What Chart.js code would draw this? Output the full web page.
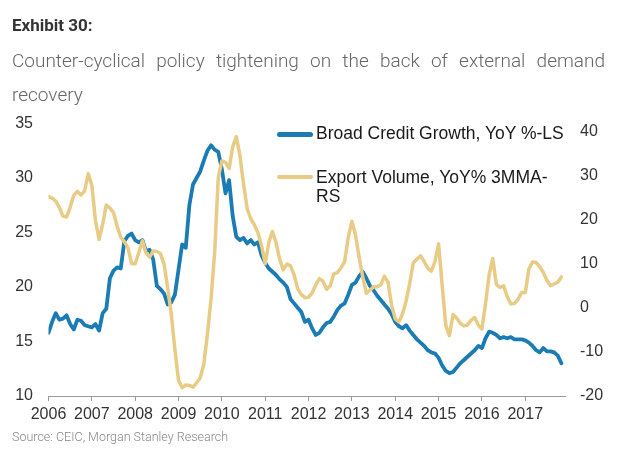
<!DOCTYPE html>
<html>
<head>
<meta charset="utf-8">
<script src="https://cdn.jsdelivr.net/npm/chart.js@4.4.1/dist/chart.umd.min.js"></script>
<style>
  html, body { margin: 0; padding: 0; background: #fff; }
  body { width: 640px; height: 459px; position: relative; overflow: hidden; }
  #c { position: absolute; left: 0; top: 0; }
  #title { position: absolute; left: 12px; top: 15px; font: bold 17px Roboto, sans-serif; color: #333; line-height: 20px; }
  #sub { position: absolute; left: 12px; top: 44px; width: 593px; font: 300 19px Roboto, sans-serif; color: #666; line-height: 34px; text-align: justify; }
  #source { position: absolute; left: 12px; top: 429px; font: 300 12.5px Roboto, sans-serif; color: #888; line-height: 16px; }
  .lg { position: absolute; font: 17.5px "Liberation Sans", Arial, sans-serif; color: #1a1a1a; line-height: 19px; white-space: nowrap; }
  .sw { position: absolute; border-radius: 3px; width: 36px; }
</style>
</head>
<body>
<canvas id="c" width="640" height="459"></canvas>
<div id="title">Exhibit 30:</div>
<div id="sub">Counter-cyclical policy tightening on the back of external demand recovery</div>
<div class="sw" style="left:277px;top:131.5px;height:5px;background:#1B7CB3"></div>
<div class="lg" style="left:316px;top:124px">Broad Credit Growth, YoY %-LS</div>
<div class="sw" style="left:277px;top:174.5px;height:4px;background:#E8CB84"></div>
<div class="lg" style="left:316px;top:167.7px">Export Volume, YoY% 3MMA-<br>RS</div>
<div id="source">Source: CEIC, Morgan Stanley Research</div>
<script>
// Monthly data, Jan 2006 .. Nov 2017
const startYear = 2006;
const creditGrowth = [
  15.8,16.8,17.6,17.0,17.1,17.4,16.6,16.1,17.0,16.9,16.5,16.4,
  16.3,16.6,16.0,17.6,18.0,20.8,21.5,21.8,21.7,24.2,24.7,24.9,
  24.3,24.1,24.3,23.3,23.4,22.5,20.1,19.8,19.4,18.4,18.6,19.3,
  21.6,23.9,23.6,27.5,29.4,30.0,30.6,31.6,32.5,33.0,32.6,32.4,
  30.8,28.6,29.8,26.5,24.6,24.3,24.5,24.0,24.3,23.9,24.1,22.9,
  22.2,21.7,21.4,21.1,20.7,20.4,20.0,18.9,18.5,18.1,17.7,16.8,
  17.0,16.2,15.6,15.8,16.3,16.7,16.8,17.3,17.9,18.3,18.5,19.3,
  20.2,20.4,21.0,21.4,20.8,20.1,19.7,19.2,18.8,18.4,18.0,17.5,
  16.8,16.4,16.2,16.5,16.0,15.6,15.2,14.9,14.6,14.2,14.0,13.9,
  13.5,12.8,12.3,12.1,12.2,12.6,13.0,13.3,13.6,13.9,14.2,14.6,
  14.4,15.3,15.9,15.8,15.6,15.3,15.4,15.3,15.4,15.2,15.2,15.2,
  15.1,14.9,14.6,14.2,14.0,14.4,14.1,14.1,14.0,13.7,13.0
];
const exportVolume = [
  25.2,24.9,24.2,22.8,20.8,20.6,22.8,25.5,26.4,25.6,26.5,30.4,
  27.8,19.8,15.5,19.0,23.3,22.6,21.6,18.5,16.0,15.0,13.6,10.0,
  10.0,12.5,15.2,12.5,11.5,12.9,12.8,12.3,9.9,4.5,-1.5,-9.5,
  -16.5,-18.1,-17.5,-17.6,-18.0,-17.0,-15.9,-12.8,-6.0,2.0,12.5,29.5,
  33.3,33.0,31.6,36.5,38.8,34.5,28.0,22.5,20.2,18.8,17.0,14.0,
  10.0,14.8,17.3,14.8,11.0,8.6,9.9,9.5,7.5,4.3,3.0,2.3,
  2.4,3.4,5.2,6.6,6.0,4.2,5.0,7.7,8.0,9.1,10.5,16.0,
  19.6,16.5,11.5,7.0,3.3,4.0,4.8,4.8,5.2,7.2,5.8,0.5,
  -2.5,-3.2,-1.4,1.5,5.5,10.2,11.0,11.8,10.5,9.0,8.3,10.5,
  14.5,5.0,-4.0,-6.3,-1.5,-2.3,-3.5,-4.1,-3.9,-2.8,-2.2,-3.9,
  -4.8,0.9,7.5,11.2,5.3,4.6,5.0,2.5,0.9,1.0,1.9,3.5,
  3.4,8.8,10.4,10.3,9.3,8.0,6.2,5.0,5.4,5.8,7.0
];
const yearTicks = [2006,2007,2008,2009,2010,2011,2012,2013,2014,2015,2016,2017];
const leftTicks = [10,15,20,25,30,35];
const rightTicks = [-20,-10,0,10,20,30,40];
const months = creditGrowth.map((_, i) => startYear + i / 12);

const axisFont = { family: '"Liberation Sans", Arial, sans-serif', size: 16 };
const setTicks = arr => scale => { scale.ticks = arr.map(v => ({ value: v })); };

new Chart(document.getElementById('c'), {
  type: 'line',
  data: {
    labels: months,
    datasets: [
      { label: 'Broad Credit Growth, YoY %-LS', data: creditGrowth, yAxisID: 'yL',
        borderColor: '#1B7CB3', borderWidth: 3.8, pointRadius: 0, tension: 0,
        borderJoinStyle: 'round', borderCapStyle: 'round', order: 2 },
      { label: 'Export Volume, YoY% 3MMA-RS', data: exportVolume, yAxisID: 'yR',
        borderColor: '#E8CB84', borderWidth: 3.5, pointRadius: 0, tension: 0,
        borderJoinStyle: 'round', borderCapStyle: 'round', order: 1 }
    ]
  },
  options: {
    responsive: false,
    animation: false,
    devicePixelRatio: 1,
    layout: { padding: { top: 123.5, bottom: 33, left: 0, right: 0 } },
    plugins: { legend: { display: false }, tooltip: { enabled: false } },
    scales: {
      x: {
        type: 'linear', position: 'bottom',
        min: startYear, max: startYear + 143 / 12,
        afterBuildTicks: setTicks(yearTicks),
        afterFit: s => { s.height = 30; },
        grid: { drawOnChartArea: false, drawTicks: true, tickLength: 5, color: '#999', lineWidth: 1 },
        border: { display: true, color: '#999', width: 1 },
        ticks: { font: axisFont, color: '#333', padding: 3.5, maxRotation: 0, autoSkip: false,
                 callback: v => String(v) }
      },
      yL: {
        type: 'linear', position: 'left', min: 10, max: 35,
        afterBuildTicks: setTicks(leftTicks),
        afterFit: s => { s.width = 48.5; },
        grid: { display: false, drawTicks: false },
        border: { display: false },
        ticks: { font: axisFont, color: '#333', padding: 15.5 }
      },
      yR: {
        type: 'linear', position: 'right', min: -20, max: 41.8,
        afterBuildTicks: setTicks(rightTicks),
        afterFit: s => { s.width = 75; },
        grid: { display: false, drawTicks: false },
        border: { display: false },
        ticks: { font: axisFont, color: '#333', padding: 15 }
      }
    }
  }
});
</script>
</body>
</html>
